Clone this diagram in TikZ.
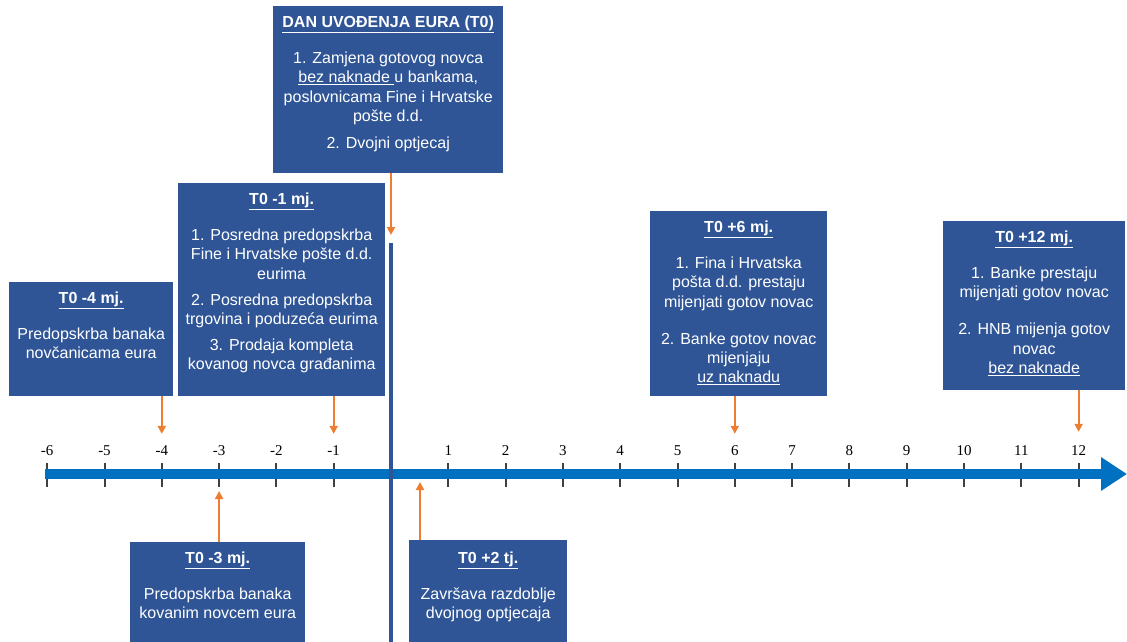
\documentclass[tikz,border=0pt]{standalone}
\usepackage{xcolor}
\usepackage{fontspec}
\setmainfont{Liberation Sans}
\newfontfamily\tickfont{Liberation Serif}
\usepackage{tikz}
\usetikzlibrary{arrows.meta, positioning, calc}
\definecolor{boxblue}{RGB}{47,85,151}
\definecolor{axisblue}{RGB}{0,112,192}
\definecolor{arroworange}{RGB}{237,125,49}

\begin{document}
\begin{tikzpicture}[
                x=1pt, y=-1pt,
                box/.style={rectangle, fill=boxblue, inner sep=0pt, anchor=north west},
                boxtext/.style={anchor=north, yshift=-10pt, inner sep=0pt, text=white, align=center, font=\fontsize{16}{19.3}\selectfont},
                ticklabel/.style={inner sep=0pt, font=\tickfont\fontsize{15}{15}\selectfont},
                tickmark/.style={draw=black!75, line width=2pt},
                timeaxis/.style={draw=axisblue, line width=10pt, -{Triangle[width=32pt,length=26pt]}},
                zeroline/.style={draw=boxblue, line width=4pt},
                pointer/.style={draw=arroworange, line width=2pt, -{Triangle[width=8pt,length=8pt]}}
            ]
                \useasboundingbox (0,0) rectangle (1127,641);
                \clip (0,0) rectangle (1127,641);

                % Time axis
                \foreach \n in {-6,-5,-4,-3,-2,-1,1,2,3,4,5,6,7,8,9,10,11,12} {
                    \draw[tickmark] ({391+57.3*\n},463) -- ({391+57.3*\n},487) coordinate (b\n);
                    \node[ticklabel] (l\n) at ({391+57.3*\n},451) {\n};
                }
                \draw[timeaxis] (45,474) -- (1127,474);
                \draw[zeroline] (391,243) coordinate (zt) -- (391,645);
                \coordinate (tj2) at (420,482);

                % Boxes
                \node[box, minimum width=230pt, minimum height=167pt,
                    label={[boxtext]north:{\textbf{\underline{DAN UVOĐENJA EURA (T0)}}\\[16.5pt]1. Zamjena gotovog novca\\\underline{bez naknade\ }u bankama,\\poslovnicama Fine i Hrvatske\\pošte d.d.\\[7.5pt]2. Dvojni optjecaj}}] (tzero) at (273,6) {};
                \node[box, minimum width=207pt, minimum height=213pt,
                    label={[boxtext]north:{\textbf{\underline{T0 -1 mj.}}\\[16.5pt]1. Posredna predopskrba\\Fine i Hrvatske pošte d.d.\\eurima\\[6.5pt]2. Posredna predopskrba\\trgovina i poduzeća eurima\\[6.5pt]3. Prodaja kompleta\\kovanog novca građanima}}] (tm1) at (178,183) {};
                \node[box, minimum width=164pt, minimum height=114pt,
                    label={[boxtext]north:{\textbf{\underline{T0 -4 mj.}}\\[16.5pt]Predopskrba banaka\\novčanicama eura}}] (tm4) at (9,282) {};
                \node[box, minimum width=177pt, minimum height=185pt,
                    label={[boxtext]north:{\textbf{\underline{T0 +6 mj.}}\\[16.5pt]1. Fina i Hrvatska\\pošta d.d. prestaju\\mijenjati gotov novac\\[17.5pt]2. Banke gotov novac\\mijenjaju\\\underline{uz naknadu}}}] (tp6) at (650,211) {};
                \node[box, minimum width=182pt, minimum height=169pt,
                    label={[boxtext]north:{\textbf{\underline{T0 +12 mj.}}\\[16.5pt]1. Banke prestaju\\mijenjati gotov novac\\[17.5pt]2. HNB mijenja gotov\\novac\\\underline{bez naknade}}}] (tp12) at (943,221) {};
                \node[box, minimum width=175pt, minimum height=104pt,
                    label={[boxtext]north:{\textbf{\underline{T0 -3 mj.}}\\[16.5pt]Predopskrba banaka\\kovanim novcem eura}}] (tm3) at (130,542) {};
                \node[box, minimum width=158pt, minimum height=106pt,
                    label={[boxtext, yshift=-2pt]north:{\textbf{\underline{T0 +2 tj.}}\\[16.5pt]Završava razdoblje\\dvojnog optjecaja}}] (tp2) at (409,540) {};

                % Pointers
                \draw[pointer, shorten >=8pt] (tzero.south -| zt) -- (zt);
                \draw[pointer, shorten >=12pt] (tm4.south -| l-4) -- (l-4.north);
                \draw[pointer, shorten >=12pt] (tm1.south -| l-1) -- (l-1.north);
                \draw[pointer, shorten >=12pt] (tp6.south -| l6) -- (l6.north);
                \draw[pointer, shorten >=14pt] (tp12.south -| l12) -- (l12.north);
                \draw[pointer, shorten >=4pt] (tm3.north -| b-3) -- (b-3);
                \draw[pointer] (tp2.north -| tj2) -- (tj2);
            \end{tikzpicture}
\end{document}
